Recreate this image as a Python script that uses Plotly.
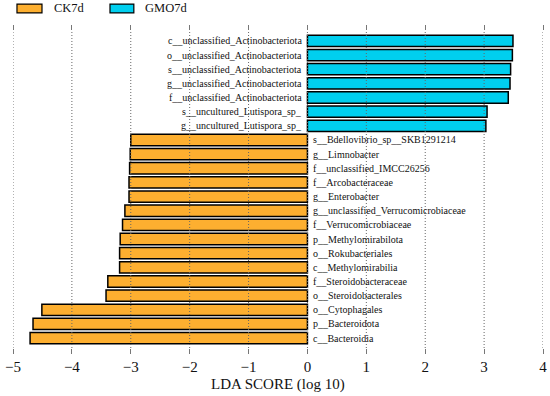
import plotly.graph_objects as go

taxa = [
    "c__unclassified_Actinobacteriota",
    "o__unclassified_Actinobacteriota",
    "s__unclassified_Actinobacteriota",
    "g__unclassified_Actinobacteriota",
    "f__unclassified_Actinobacteriota",
    "s__uncultured_Lutispora_sp_",
    "g__uncultured_Lutispora_sp_",
    "s__Bdellovibrio_sp__SKB1291214",
    "g__Limnobacter",
    "f__unclassified_IMCC26256",
    "f__Arcobacteraceae",
    "g__Enterobacter",
    "g__unclassified_Verrucomicrobiaceae",
    "f__Verrucomicrobiaceae",
    "p__Methylomirabilota",
    "o__Rokubacteriales",
    "c__Methylomirabilia",
    "f__Steroidobacteraceae",
    "o__Steroidobacterales",
    "o__Cytophagales",
    "p__Bacteroidota",
    "c__Bacteroidia",
]
lda = [3.49, 3.48, 3.45, 3.44, 3.41, 3.05, 3.03,
       -3.00, -3.01, -3.02, -3.03, -3.03, -3.10, -3.14, -3.18, -3.19, -3.19,
       -3.39, -3.42, -4.51, -4.66, -4.71]
groups = ["CK7d", "GMO7d"]
group_colors = {"CK7d": "#FDAF30", "GMO7d": "#00CFEF"}
tick_vals = [-5, -4, -3, -2, -1, 0, 1, 2, 3, 4]
tick_text = ["\u22125", "\u22124", "\u22123", "\u22122", "\u22121", "0", "1", "2", "3", "4"]
x_title = "LDA SCORE (log 10)"

FONT = "Liberation Serif"

fig = go.Figure()
for g in groups:
    sel = [(t, v) for t, v in zip(taxa, lda) if (v > 0) == (g == "GMO7d")]
    fig.add_trace(go.Bar(
        y=[t for t, _ in sel], x=[v for _, v in sel], orientation="h", name=g,
        marker=dict(color=group_colors[g], line=dict(color="black", width=1.5)),
        width=0.8, showlegend=False, hoverinfo="x+y",
    ))

# taxon labels on the opposite side of zero
for t, v in zip(taxa, lda):
    fig.add_annotation(
        x=0, y=t, xref="x", yref="y", text=t, showarrow=False,
        xanchor="right" if v > 0 else "left", xshift=-3 if v > 0 else 4,
        font=dict(family=FONT, size=10, color="#111"),
    )

# dotted gridlines drawn above the bars
for tv in tick_vals:
    fig.add_shape(type="line", xref="x", yref="paper", x0=tv, x1=tv, y0=0, y1=1,
                  line=dict(color="#666", width=1, dash="1px,2px"), layer="above")

# custom legend (wide rectangles)
leg_x = [(0.0075, 0.0547, 0.0736), (0.183, 0.228, 0.245)]
for g, (a, b, tx) in zip(groups, leg_x):
    fig.add_shape(type="rect", xref="paper", yref="paper", x0=a, x1=b,
                  y0=1.057, y1=1.085, fillcolor=group_colors[g],
                  line=dict(color="black", width=1.2))
    fig.add_annotation(x=tx, y=1.071, xref="paper", yref="paper", text=g,
                       showarrow=False, xanchor="left", yanchor="middle",
                       font=dict(family=FONT, size=12.5, color="#111"))

# axis title
fig.add_annotation(x=0.5, y=-0.114, xref="paper", yref="paper", text=x_title,
                   showarrow=False, xanchor="center", yanchor="middle",
                   font=dict(family=FONT, size=15, color="#111"))

fig.update_layout(
    width=550, height=396,
    margin=dict(l=13, r=7, t=31, b=48, autoexpand=False),
    paper_bgcolor="white", plot_bgcolor="white",
    bargap=0.2,
    font=dict(family=FONT, color="#111"),
    xaxis=dict(
        range=[-5, 4], tickvals=tick_vals, ticktext=tick_text,
        automargin=False,
        showgrid=False, zeroline=False, showline=False,
        ticks="outside", ticklen=5, tickwidth=1, tickcolor="#777", mirror="ticks",
        tickfont=dict(family=FONT, size=15, color="#111"),
    ),
    yaxis=dict(
        categoryorder="array", categoryarray=taxa, automargin=False,
        range=[21.7, -0.7], showticklabels=False, showgrid=False,
        zeroline=False, showline=False, ticks="",
    ),
)

fig.write_html("out.html", config={"displayModeBar": False},
               post_script="document.body.style.margin='0px';document.body.style.padding='0px';")
